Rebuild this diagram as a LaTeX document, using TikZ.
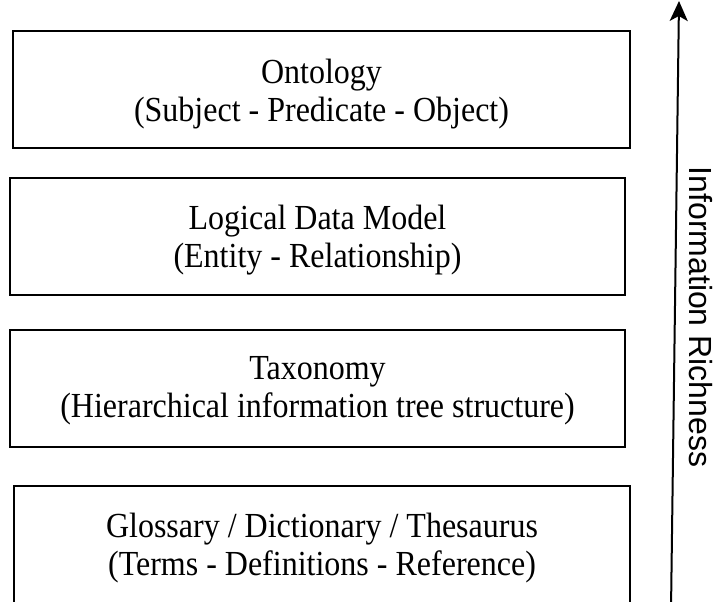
\documentclass[tikz,border=0pt]{standalone}
\usepackage{fontspec}
\usepackage{graphicx}
\setmainfont{Liberation Serif}
\newfontfamily\labelfont{Liberation Sans}
\usetikzlibrary{arrows.meta}
% slightly condensed-looking serif lines (taller than wide)
\newcommand\tallline[1]{\scalebox{1}[1.1]{#1}}
\begin{document}
\begin{tikzpicture}[x=1pt,y=-1pt,
  layerbox/.style={draw=black,line width=2pt,rectangle,inner sep=0pt,
    minimum height=117pt},
  layertext/.style={inner sep=0pt,align=center,
    font=\fontsize{32}{38}\selectfont},
  axisline/.style={line width=2pt,-{Stealth[length=20pt,width=18pt,inset=5pt]}}]
  \useasboundingbox (0,0) rectangle (716,602);
  \clip (0,0) rectangle (716,602);
  % the four layers, from richest (top) to plainest (bottom)
  \node[layerbox,minimum width=617pt] (onto) at (321.5,89.5) {};
  \node[layerbox,minimum width=615pt] (ldm) at (317.5,236) {};
  \node[layerbox,minimum width=615pt] (tax) at (317.5,388) {};
  \node[layerbox,minimum width=616pt,minimum height=118pt] (gloss) at (322,545) {};
  \node[layertext] (ontotext) at ([yshift=-5pt]onto.center)
    {\tallline{Ontology}\\\tallline{(Subject - Predicate - Object)}};
  \node[layertext] (ldmtext) at ([yshift=-4pt]ldm.center)
    {\tallline{Logical Data Model}\\\tallline{(Entity - Relationship)}};
  \node[layertext] (taxtext) at ([yshift=-3pt]tax.center)
    {\tallline{Taxonomy}\\\tallline{(Hierarchical information tree structure)}};
  \node[layertext] (glosstext) at ([yshift=-3pt]gloss.center)
    {\tallline{Glossary / Dictionary / Thesaurus}\\\tallline{(Terms - Definitions - Reference)}};
  % axis
  \coordinate (lowend) at (671,610);
  \coordinate (highend) at (679,1);
  \draw[axisline] (lowend) -- (highend);
  \node[rotate=-90,font=\labelfont\fontsize{32}{36}\selectfont,inner sep=0pt]
    (rich) at (701,317) {Information Richness};
\end{tikzpicture}
\end{document}
